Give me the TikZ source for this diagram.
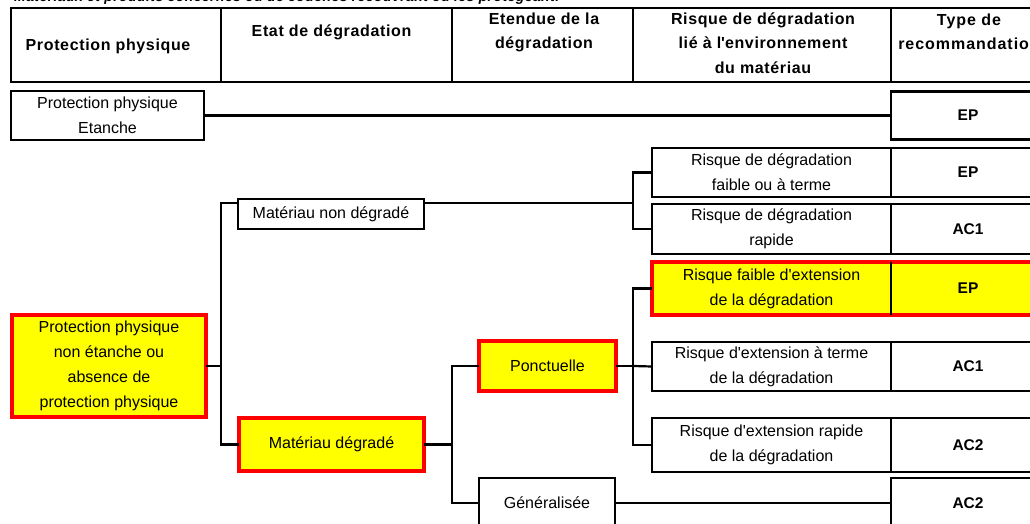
\documentclass[tikz,border=0pt]{standalone}
\usepackage{fontspec}
\setmainfont{Liberation Sans}
\definecolor{hly}{RGB}{255,255,0}
\definecolor{hlr}{RGB}{255,0,0}
\newcommand\bodyf{\fontsize{16}{25}\selectfont}
\newcommand\headf{\fontsize{16}{24.5}\selectfont\bfseries\addfontfeature{LetterSpace=4}}
\newcommand\typef{\fontsize{15.5}{20}\selectfont\bfseries}
\newcommand\apo{\textquotesingle}
\tikzset{
  bx/.style={draw=black, line width=2.4pt, fill=white, inner sep=0pt, outer sep=0pt, align=center, font=\bodyf},
  hlbox/.style={draw=hlr, line width=4.5pt, fill=hly, inner sep=0pt, outer sep=0pt, align=center, font=\bodyf},
  hlfill/.style={fill=hly, inner sep=0pt, outer sep=0pt, align=center, font=\bodyf},
  tc/.style={bx, font=\typef},
  hcell/.style={draw=black, line width=2pt, inner sep=0pt, outer sep=0pt},
  htxt/.style={inner sep=0pt, outer sep=0pt, align=center, font=\headf},
  conn/.style={line width=2.2pt, line join=miter},
}
\begin{document}
\begin{tikzpicture}[x=1pt,y=-1pt]
\useasboundingbox[fill=white] (0,0) rectangle (1030,524);

% cut-off caption
\node[anchor=base west, inner sep=0pt, font=\fontsize{14}{14}\selectfont\bfseries\itshape\addfontfeature{LetterSpace=3}] (ttl) at (14,1.5) {Matériaux et produits concernés ou de couches recouvrant ou les protégeant.};

% header cells
\node[hcell, minimum width=210, minimum height=74] (h1) at (116,45.5) {};
\node[hcell, minimum width=231, minimum height=74] (h2) at (336.5,45.5) {};
\node[hcell, minimum width=181, minimum height=74] (h3) at (542.5,45.5) {};
\node[hcell, minimum width=258, minimum height=74] (h4) at (762,45.5) {};
\node[hcell, minimum width=154, minimum height=74] (h5) at (968,45.5) {};
\node[htxt, anchor=base] (h1t) at (108,51) {Protection physique};
\node[htxt, anchor=north] (h2t) at (331.5,24.5) {Etat de dégradation};
\node[htxt, anchor=north] (h3t) at (544,12.5) {Etendue de la\\dégradation};
\node[htxt, anchor=north] (h4t) at (763,12.5) {Risque de dégradation\\lié à l\apo environnement\\du matériau};
\node[htxt, anchor=north, font=\headf\addfontfeature{LetterSpace=6}] (h5t) at (969,13.5) {Type de\\recommandation};

% row 1
\node[bx, minimum width=193, minimum height=49] (pe) at (107.5,115.5) {Protection physique\\Etanche};
\node[tc, minimum width=154, minimum height=48] (ep1) at (968,115.5) {EP};

% left tree
\node[hlbox, minimum width=194, minimum height=102] (pne) at (109,366) {Protection physique\\non étanche ou\\absence de\\protection physique};
\node[bx, minimum width=186, minimum height=30] (mnd) at (331,214) {Matériau non dégradé};
\node[hlbox, minimum width=185, minimum height=53] (md) at (331.5,444.5) {Matériau dégradé};
\node[hlbox, minimum width=137, minimum height=50] (pon) at (547.5,366) {Ponctuelle};
\node[bx, minimum width=136, minimum height=50] (gen) at (547,503) {Généralisée};

% risk cells
\node[bx, minimum width=239, minimum height=49] (r1) at (771.5,172.5) {Risque de dégradation\\faible ou à terme};
\node[tc, minimum width=154, minimum height=49] (t1) at (968,172.5) {EP};
\node[bx, minimum width=239, minimum height=50] (r2) at (771.5,229) {Risque de dégradation\\rapide};
\node[tc, minimum width=154, minimum height=50] (t2) at (968,229) {AC1};
\node[hlfill, minimum width=239, minimum height=53] (r3) at (771.5,288.5) {Risque faible d\apo extension\\de la dégradation};
\node[hlfill, minimum width=154, minimum height=53, font=\typef] (t3) at (968,288.5) {EP};
\draw[draw=hlr, line width=4.5pt] (r3.north west) rectangle (t3.south east);
\draw[line width=1.5pt] (r3.north east) -- (r3.south east);
\node[bx, minimum width=239, minimum height=49] (r4) at (771.5,366.5) {Risque d\apo extension à terme\\de la dégradation};
\node[tc, minimum width=154, minimum height=49] (t4) at (968,366.5) {AC1};
\node[bx, minimum width=239, minimum height=54] (r5) at (771.5,445) {Risque d\apo extension rapide\\de la dégradation};
\node[tc, minimum width=154, minimum height=54] (t5) at (968,445) {AC2};
\node[tc, minimum width=154, minimum height=50] (t6) at (968,503) {AC2};

% connectors
\draw[conn] (pe.east) -- (ep1.west);
\coordinate (j1) at (221,366);
\draw[conn] (pne.east) -- (j1);
\draw[conn] ([yshift=11pt]mnd.west) -| (j1) |- (md.west);
\coordinate (j2) at (633,203);
\draw[conn] ([yshift=11pt]mnd.east) -- (j2);
\draw[conn] (r1.west) -| (j2) |- (r2.west);
\coordinate (j3) at (452,444.5);
\draw[conn, line width=3pt] (md.east) -- (j3);
\draw[conn] (pon.west) -| (j3) |- (gen.west);
\coordinate (j4) at (633,366);
\draw[conn] (pon.east) -- (j4);
\draw[conn] (r3.west) -| (j4) |- (r5.west);
\draw[conn] (j4) -- (r4.west);
\draw[conn] (gen.east) -- (t6.west);
\end{tikzpicture}
\end{document}
